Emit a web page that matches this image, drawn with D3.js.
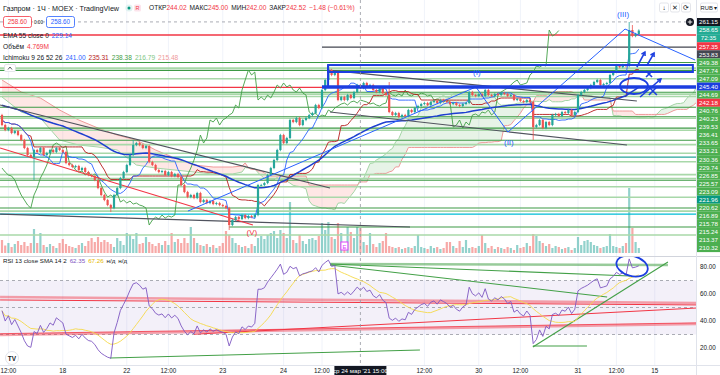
<!DOCTYPE html>
<html><head><meta charset="utf-8">
<script src="https://cdn.jsdelivr.net/npm/d3@7/dist/d3.min.js"></script>
<style>html,body{margin:0;padding:0;background:#fff;overflow:hidden}svg{display:block}text{font-family:"Liberation Sans",Arial,sans-serif}</style>
</head><body><svg id="chart" width="720" height="375"></svg>
<script>
// ---------------- DATA ----------------
const firstOpen = 234.16;
const closes = [
231.26,229.81,230.39,228.94,229.52,228.36,226.91,224.60,222.57,221.99,
224.02,223.44,224.60,222.57,223.15,224.02,223.44,224.60,224.02,223.44,
220.25,219.67,219.09,219.38,218.22,218.80,217.64,216.77,216.48,215.32,
213.00,210.97,209.52,208.07,207.20,210.97,213.00,215.90,217.64,219.67,
222.57,225.47,226.04,225.47,224.60,225.18,220.54,219.67,218.22,217.64,
217.93,216.77,217.64,216.48,217.06,216.19,213.87,211.84,210.39,210.97,
210.10,211.55,208.94,209.52,208.65,209.23,208.36,208.65,208.07,207.78,
207.20,202.28,203.73,204.59,204.01,205.17,204.30,204.88,204.59,205.17,
213.87,213.87,214.45,216.77,218.80,221.12,224.02,228.36,226.04,227.49,
232.71,232.13,233.29,231.26,232.71,233.29,234.16,234.74,237.06,236.19,
241.41,244.31,247.20,245.76,246.63,238.51,239.38,238.51,239.96,239.09,
240.83,242.86,241.99,243.44,242.28,242.86,241.41,240.83,241.99,240.54,
239.96,235.03,234.16,234.74,233.58,234.16,233.87,235.61,235.03,236.19,
236.77,237.35,237.64,237.06,237.93,238.22,237.64,238.51,238.22,237.93,
237.35,237.64,237.06,236.77,237.35,237.64,240.83,239.96,239.67,240.25,
239.67,241.41,239.96,239.67,240.25,239.96,240.54,240.25,239.67,239.96,
238.51,238.80,238.22,237.93,238.51,237.93,230.68,231.26,232.71,230.39,
232.13,231.26,234.16,234.45,233.87,235.03,234.74,235.61,234.16,235.03,
239.96,240.83,241.41,241.99,242.86,243.73,244.31,242.86,243.15,243.44,
245.76,246.63,248.36,248.07,248.65,248.36,258.80,257.06,257.64,258.65
];
const wickExtremes = [
  {i:10, low:215.32}, {i:34, low:206.04}, {i:41, high:226.91}, {i:71, low:200.83},
  {i:102, high:248.65}, {i:121, high:243.73}, {i:166, low:226.91},
  {i:196, high:261.12}, {i:197, high:260.25}
];
const volumes = [
2.6,1.5,2.0,1.2,1.8,2.4,1.6,2.2,1.4,2.0, 4.8,2.0,4.0,1.6,1.2,1.8,1.4,1.0,2.0,2.8,
1.8,1.4,1.2,1.0,1.6,2.0,1.4,2.4,3.0,2.2, 3.2,2.2,2.6,2.2,1.8,1.2,3.0,2.4,1.6,4.0,
3.6,2.8,4.0,1.8,2.0,3.2,2.2,1.8,1.4,2.0, 1.6,2.4,1.6,4.0,2.2,2.8,2.0,3.0,2.0,5.2,
3.0,2.0,1.6,1.4,1.8,1.2,1.6,1.0,1.4,2.0, 4.4,3.6,3.0,2.0,1.6,1.2,1.4,1.0,1.8,1.4,
3.0,3.4,2.8,3.6,4.0,4.4,3.0,4.6,4.0,3.0, 10.2,2.6,2.0,3.6,2.4,1.8,2.8,3.0,2.6,3.4,
6.0,4.6,6.2,3.2,2.8,6.0,4.0,2.2,5.2,4.2, 3.0,5.2,5.0,2.2,1.6,4.0,1.8,1.2,2.0,2.4,
4.0,1.4,1.2,1.0,1.2,0.8,1.0,1.2,1.0,1.4, 3.6,1.2,1.0,0.8,1.4,1.0,1.2,0.8,1.0,2.2,
2.2,1.4,1.0,2.4,1.2,2.6,1.0,1.2,1.0,1.4, 3.6,2.0,1.0,1.4,0.8,1.2,1.0,0.8,1.2,1.0,
0.6,1.6,1.0,1.2,2.0,1.4,3.8,3.4,2.4,2.0, 1.4,1.8,1.0,1.4,1.2,0.8,1.0,1.2,0.6,1.0,
3.2,1.6,2.4,2.6,2.2,1.6,1.4,1.0,1.2,1.4, 3.8,1.4,1.2,1.0,1.4,2.0,13.0,5.0,2.2,1.0
];
const emaSeed = 237.2;
// Ichimoku cloud before the visible history allows computing it
const cloudEarlyIdx = [0, 6, 12, 18, 24, 30, 36, 42, 48, 54, 60, 66, 72, 75];
const cloudEarlyA   = [239.38,235.03,233.29,226.91,225.47,224.89,224.02,219.67,218.80,218.22,217.64,217.06,217.06,217.64];
const cloudEarlyB   = [244.31,240.83,239.09,235.61,232.71,230.39,228.36,226.91,224.02,221.70,219.67,219.09,219.09,219.38];
const rsiSeed = {gain:0.30, loss:0.33};

const levels = [
  {p:257.35,k:'red'}, {p:253.83,k:'gray',from:100}, {p:249.38,k:'dg'}, {p:247.74,k:'lg'},
  {p:247.09,k:'dg'}, {p:244.69,k:'lg'}, {p:242.18,k:'red'}, {p:240.76,k:'dg'},
  {p:240.23,k:'lg'}, {p:239.53,k:'lg'}, {p:236.41,k:'dg'}, {p:233.65,k:'dg'},
  {p:233.21,k:'lg'}, {p:230.36,k:'dg'}, {p:229.74,k:'lg'}, {p:226.85,k:'dg'},
  {p:225.57,k:'lg'}, {p:223.09,k:'lg'}, {p:221.96,k:'teal'}, {p:220.62,k:'lg'},
  {p:216.89,k:'lg'}, {p:215.78,k:'lg'}, {p:215.24,k:'dg'}, {p:213.37,k:'lg'},
  {p:210.32,k:'lg'}, {p:207.20,k:'dg'}, {p:206.30,k:'lg'}, {p:205.46,k:'cyan'},
  {p:201.70,k:'dg',from:71}, {p:199.40,k:'lg'}
];
const axisLabels = ['261.15','258.65','72:35','257.35','253.83','249.38','247.74','247.09','245.40','244.69','242.18',
  '240.76','240.23','239.53','236.41','233.65','233.21','230.36','229.74','226.85','225.57','223.09','221.96',
  '220.62','216.89','215.78','215.24','213.37','210.32'];
const axisLabelKinds = ['cross','last','last','red','gray','g','g','g','blue','g','red',
  'g','g','g','g','g','g','g','g','g','g','g','teal','g','g','g','g','g','g'];
const trendLines = [
  {a:[-0.6,237.06], b:[102.5,213.0], c:'#50535e'},
  {a:[101.9,247.2], b:[198.4,238.22], c:'#50535e'},
  {a:[102.5,235.03], b:[195.3,225.47], c:'#50535e'},
  {a:[-0.6,205.46], b:[127.5,201.7], c:'#50535e'},
  {a:[-0.6,224.60], b:[78.4,202.28], c:'#f23645'}
];
const waveIdx = [58.1, 148.1, 158.1, 194.7, 216.6];
const wavePrice = [206.33, 242.28, 229.23, 259.09, 250.10];
const waveLabels = [{t:'(I)',i:148.4,p:245.76},{t:'(II)',i:158.4,p:225.47},{t:'(III)',i:194.1,p:262.57}];
const rectBox = {i0:101.9, i1:215.9, p0:248.65, p1:246.63};
const thickLine = {i0:100, i1:224.4, p:242.28};
const arrows = [{a:[198.4,248.07],b:[200.9,252.42]},{a:[201.6,248.65],b:[203.75,252.13]},{a:[199.4,239.38],b:[205.9,244.6]}];
const crosses = [{i:202.2,p:246.05,s:3},{i:203.4,p:241.12,s:4}];
const ellipses = [{i:197.5,p:242.57}];
const rsiLines = [
  {a:[-0.6,57.8],b:[216.9,53.3],c:'rgba(242,54,69,0.45)',w:2.6},
  {a:[-0.6,55.6],b:[216.9,51.9],c:'#f23645',w:1},
  {a:[60,30.2],b:[216.9,49.6],c:'#f23645',w:1},
  {a:[-0.6,29.6],b:[216.9,37.8],c:'rgba(242,54,69,0.45)',w:2.4},
  {a:[-0.6,30.6],b:[216.9,38.6],c:'#f23645',w:0.8},
  {a:[33.75,12.6],b:[130.6,18.5],c:'#43a047',w:1.1},
  {a:[102.5,82.2],b:[208.1,81.5],c:'rgba(67,160,71,0.55)',w:2.4},
  {a:[102.5,82.2],b:[196.25,73.3],c:'#43a047',w:1.1},
  {a:[102.5,81.5],b:[189.1,57.8],c:'#43a047',w:1.1},
  {a:[165.9,20.7],b:[208.1,83.7],c:'#43a047',w:1.1},
  {a:[165.9,21.5],b:[182.8,21.5],c:'#43a047',w:1.1}
];
const rsiEllipse = {i:196.9, v:80.7};
const rsiTicks = [80, 60, 40, 20];
const timeTicks = [{i:2,t:'12:00'},{i:19,t:'18'},{i:39,t:'22'},{i:52,t:'12:00'},{i:69,t:'23'},{i:88,t:'24'},
  {i:100,t:'12:00'},{i:132,t:'12:00'},{i:149,t:'30'},{i:162,t:'12:00'},{i:180,t:'31'},{i:192,t:'12:00'},{i:204,t:'15'}];
const crosshair = {i:112, p:261.15, label:"ср 24 мар '21  15:00"};
const events = [{i:107, t:'E'}];
const WICK = 0.35;

// ---------------- SCALES ----------------
const svg = d3.select('#chart');
const PLOT_R = 696, MAIN_B = 256, RSI_T = 257, RSI_B = 365;
const x = d3.scaleLinear().domain([0, 217]).range([2, 696.4]);
const y = d3.scaleLinear().domain([193.3, 267.5]).range([256, 0]);
const yVol = d3.scaleLinear().domain([0, 13]).range([253, 188]);
const yR = d3.scaleLinear().domain([0, 100]).range([375, 240]);

svg.append('rect').attr('width',720).attr('height',375).attr('fill','#fff');
const defs = svg.append('defs');
defs.append('clipPath').attr('id','cm').append('rect').attr('x',0).attr('y',0).attr('width',PLOT_R).attr('height',MAIN_B);
defs.append('clipPath').attr('id','cr').append('rect').attr('x',0).attr('y',RSI_T).attr('width',PLOT_R).attr('height',RSI_B-RSI_T);

// ---------------- COMPUTE ----------------
const N = closes.length;
const bars = closes.map((c,i)=>{const o=i===0?firstOpen:closes[i-1];return {i,o,c,h:Math.max(o,c)+WICK,l:Math.min(o,c)-WICK};});
wickExtremes.forEach(w=>{if(w.high!=null)bars[w.i].h=w.high;if(w.low!=null)bars[w.i].l=w.low;});
function mid(a,b){let hi=-Infinity,lo=Infinity;for(let k=Math.max(0,a);k<=b;k++){hi=Math.max(hi,bars[k].h);lo=Math.min(lo,bars[k].l);}return (hi+lo)/2;}
const tenkan = bars.map((d,i)=>({i,v:mid(i-8,i)}));
const kijun = bars.map((d,i)=>({i,v:mid(i-25,i)}));
const cloud = cloudEarlyIdx.map((i,k)=>({i,a:cloudEarlyA[k],b:cloudEarlyB[k]}));
for(let k=76;k<N+25;k++){const s=k-25;cloud.push({i:k,a:(tenkan[s].v+kijun[s].v)/2,b:mid(s-51,s)});}
const chikou = bars.slice(25).map((d,k)=>({i:k,v:d.c}));
let e = emaSeed; const ema = closes.map((c,i)=>{e=e+(c-e)*2/56;return {i,v:e};});
let ag=rsiSeed.gain, al=rsiSeed.loss; const rsi=[{i:0,v:100-100/(1+ag/al)}];
for(let i=1;i<N;i++){const ch=closes[i]-closes[i-1];ag=(ag*12+Math.max(ch,0))/13;al=(al*12+Math.max(-ch,0))/13;rsi.push({i,v:100-100/(1+ag/al)});}
const rsiMa = rsi.map((d,i)=>{const s=rsi.slice(Math.max(0,i-13),i+1);return {i,v:d3.mean(s,q=>q.v)};});

// ---------------- DRAW ----------------
const grid = svg.append('g');
timeTicks.forEach(t=>grid.append('line').attr('x1',x(t.i)).attr('x2',x(t.i)).attr('y1',0).attr('y2',RSI_B).attr('stroke','#f0f3fa'));

const main = svg.append('g').attr('clip-path','url(#cm)');
const ln = d3.line().x(d=>x(d.i)).y(d=>y(d.v));
// cloud
const areaG = d3.area().x(d=>x(d.i)).y0(d=>y(d.b)).y1(d=>y(Math.max(d.a,d.b)));
const areaR = d3.area().x(d=>x(d.i)).y0(d=>y(d.a)).y1(d=>y(Math.max(d.a,d.b)));
main.append('path').attr('d',areaG(cloud)).attr('fill','rgba(67,160,71,0.13)');
main.append('path').attr('d',areaR(cloud)).attr('fill','rgba(244,67,54,0.13)');
main.append('path').attr('d',d3.line().x(d=>x(d.i)).y(d=>y(d.a))(cloud)).attr('fill','none').attr('stroke','#a5d6a7').attr('stroke-width',1);
main.append('path').attr('d',d3.line().x(d=>x(d.i)).y(d=>y(d.b))(cloud)).attr('fill','none').attr('stroke','#ef9a9a').attr('stroke-width',1);

// volume
main.selectAll('rect.vol').data(bars).enter().append('rect').attr('class','vol')
  .attr('x',d=>x(d.i)-1.1).attr('width',2.2).attr('y',d=>yVol(volumes[d.i])).attr('height',d=>yVol(0)-yVol(volumes[d.i]))
  .attr('fill',d=>d.c>=d.o?'rgba(38,166,154,0.5)':'rgba(239,83,80,0.5)');

// levels
const lvStyle = {red:['#f23645',1.3],gray:['#434651',1.3],dg:['#3d9a45',1.1],lg:['#a8d8a9',1.6],teal:['#26a69a',1.3],cyan:['#00bcd4',1.3]};
levels.forEach(l=>{const s=lvStyle[l.k];main.append('line').attr('x1',l.from!=null?x(l.from):0).attr('x2',PLOT_R).attr('y1',y(l.p)).attr('y2',y(l.p)).attr('stroke',s[0]).attr('stroke-width',s[1]);});

// ichimoku lines
main.append('path').attr('d',ln(chikou)).attr('fill','none').attr('stroke','#43a047').attr('stroke-width',0.9);
main.append('path').attr('d',ln(kijun)).attr('fill','none').attr('stroke','#b71c1c').attr('stroke-width',0.9);
main.append('path').attr('d',ln(tenkan)).attr('fill','none').attr('stroke','#2962ff').attr('stroke-width',0.9);
main.append('path').attr('d',ln(ema)).attr('fill','none').attr('stroke','#1e3fd0').attr('stroke-width',1.5);

// trend lines
trendLines.forEach(t=>main.append('line').attr('x1',x(t.a[0])).attr('y1',y(t.a[1])).attr('x2',x(t.b[0])).attr('y2',y(t.b[1])).attr('stroke',t.c).attr('stroke-width',1.2));

// candles
const cg = main.append('g');
cg.selectAll('line').data(bars).enter().append('line').attr('x1',d=>x(d.i)).attr('x2',d=>x(d.i)).attr('y1',d=>y(d.h)).attr('y2',d=>y(d.l))
  .attr('stroke',d=>d.c>=d.o?'#26a69a':'#ef5350').attr('stroke-width',0.8);
cg.selectAll('rect').data(bars).enter().append('rect').attr('x',d=>x(d.i)-1.1).attr('width',2.2)
  .attr('y',d=>y(Math.max(d.o,d.c))).attr('height',d=>Math.max(0.8,Math.abs(y(d.o)-y(d.c))))
  .attr('fill',d=>d.c>=d.o?'#26a69a':'#ef5350');

// drawings (blue)
const BLUE = '#1c3ee0';
main.append('path').attr('d',d3.line().x((d,k)=>x(waveIdx[k])).y((d,k)=>y(wavePrice[k]))(waveIdx)).attr('fill','none').attr('stroke','#2962ff').attr('stroke-width',1);
main.append('rect').attr('x',x(rectBox.i0)).attr('y',y(rectBox.p0)).attr('width',x(rectBox.i1)-x(rectBox.i0)).attr('height',y(rectBox.p1)-y(rectBox.p0))
  .attr('fill','none').attr('stroke',BLUE).attr('stroke-width',2);
main.append('line').attr('x1',x(rectBox.i0)).attr('x2',x(rectBox.i0)).attr('y1',y(rectBox.p0)).attr('y2',y(thickLine.p)).attr('stroke',BLUE).attr('stroke-width',2);
waveLabels.forEach(w=>main.append('text').attr('x',x(w.i)).attr('y',y(w.p)).attr('text-anchor','middle').attr('font-size',8).attr('fill','#2962ff').text(w.t));
main.append('text').attr('x',x(78.1)).attr('y',y(199.38)).attr('text-anchor','middle').attr('font-size',8).attr('fill','#f23645').text('(V)');
svg.append('line').attr('x1',x(thickLine.i0)).attr('x2',720).attr('y1',y(thickLine.p)).attr('y2',y(thickLine.p)).attr('stroke',BLUE).attr('stroke-width',3.6);
arrows.forEach(a=>{const x1=x(a.a[0]),y1=y(a.a[1]),x2=x(a.b[0]),y2=y(a.b[1]);const ang=Math.atan2(y2-y1,x2-x1);
  main.append('line').attr('x1',x1).attr('y1',y1).attr('x2',x2).attr('y2',y2).attr('stroke',BLUE).attr('stroke-width',1.6);
  const hl=4;main.append('path').attr('d',`M${x2+hl*Math.cos(ang+2.6)},${y2+hl*Math.sin(ang+2.6)}L${x2},${y2}L${x2+hl*Math.cos(ang-2.6)},${y2+hl*Math.sin(ang-2.6)}`).attr('fill','none').attr('stroke',BLUE).attr('stroke-width',1.6);});
crosses.forEach(c=>{const cx=x(c.i),cy=y(c.p),s=c.s;main.append('path').attr('d',`M${cx-s},${cy-s}L${cx+s},${cy+s}M${cx-s},${cy+s}L${cx+s},${cy-s}`).attr('stroke',BLUE).attr('stroke-width',1.6);});
ellipses.forEach(c=>main.append('ellipse').attr('cx',x(c.i)).attr('cy',y(c.p)).attr('rx',14).attr('ry',8).attr('fill','none').attr('stroke',BLUE).attr('stroke-width',1.8));
events.forEach(ev=>{main.append('rect').attr('x',x(ev.i)-3.5).attr('y',242).attr('width',7).attr('height',8).attr('fill','#fff').attr('stroke','#e040fb').attr('stroke-width',1);
  main.append('text').attr('x',x(ev.i)).attr('y',248.5).attr('text-anchor','middle').attr('font-size',6).attr('fill','#e040fb').text(ev.t);});

// ---------------- RSI PANE ----------------
const rp = svg.append('g').attr('clip-path','url(#cr)');
const lr = d3.line().x(d=>x(d.i)).y(d=>yR(d.v));
rp.append('rect').attr('x',0).attr('width',PLOT_R).attr('y',yR(70)).attr('height',yR(30)-yR(70)).attr('fill','rgba(126,87,194,0.09)');
[70,50,30].forEach(v=>rp.append('line').attr('x1',0).attr('x2',PLOT_R).attr('y1',yR(v)).attr('y2',yR(v)).attr('stroke','#9598a1').attr('stroke-dasharray','3,3').attr('stroke-width',0.8));
rsiLines.forEach(t=>rp.append('line').attr('x1',x(t.a[0])).attr('y1',yR(t.a[1])).attr('x2',x(t.b[0])).attr('y2',yR(t.b[1])).attr('stroke',t.c).attr('stroke-width',t.w));
rp.append('path').attr('d',lr(rsiMa)).attr('fill','none').attr('stroke','#f5d94a').attr('stroke-width',0.9);
rp.append('path').attr('d',lr(rsi)).attr('fill','none').attr('stroke','#7e57c2').attr('stroke-width',0.9);
rp.append('ellipse').attr('cx',x(rsiEllipse.i)).attr('cy',yR(rsiEllipse.v)).attr('rx',16).attr('ry',10).attr('fill','none').attr('stroke',BLUE).attr('stroke-width',1.8).attr('transform',`rotate(15,${x(rsiEllipse.i)},${yR(rsiEllipse.v)})`);

// separators
svg.append('line').attr('x1',0).attr('x2',720).attr('y1',256.5).attr('y2',256.5).attr('stroke','#d1d4dc');
svg.append('line').attr('x1',0).attr('x2',720).attr('y1',365.5).attr('y2',365.5).attr('stroke','#e0e3eb');
svg.append('line').attr('x1',696.5).attr('x2',696.5).attr('y1',0).attr('y2',375).attr('stroke','#e0e3eb');

// crosshair
svg.append('line').attr('x1',x(crosshair.i)).attr('x2',x(crosshair.i)).attr('y1',0).attr('y2',RSI_B).attr('stroke','#9598a1').attr('stroke-dasharray','3,3').attr('stroke-width',0.8);
svg.append('line').attr('x1',0).attr('x2',PLOT_R).attr('y1',y(crosshair.p)).attr('y2',y(crosshair.p)).attr('stroke','#9598a1').attr('stroke-dasharray','3,3').attr('stroke-width',0.8);

// price axis labels
const labColor = {cross:'#131722',last:'#22ab94',red:'#f23645',gray:'#434651',g:'#4caf50',blue:BLUE,teal:'#089981'};
const ly = d3.scalePoint().domain(d3.range(axisLabels.length)).range([22,248]);
axisLabels.forEach((t,k)=>{const cy=ly(k);
  svg.append('rect').attr('x',697).attr('y',cy-4).attr('width',23).attr('height',8.1).attr('fill',labColor[axisLabelKinds[k]]);
  svg.append('text').attr('x',708.5).attr('y',cy+2.3).attr('text-anchor','middle').attr('font-size',6.2).attr('fill','#fff').text(t);});
svg.append('circle').attr('cx',690).attr('cy',22).attr('r',4).attr('fill','#131722');
svg.append('path').attr('d','M687.7,22H692.3M690,19.7V24.3').attr('stroke','#fff').attr('stroke-width',0.9);

// RSI axis
rsiTicks.forEach(v=>svg.append('text').attr('x',708).attr('y',yR(v)+2.2).attr('text-anchor','middle').attr('font-size',6.3).attr('fill','#131722').text(v.toFixed(2)));

// time axis
timeTicks.forEach(t=>svg.append('text').attr('x',x(t.i)).attr('y',372.5).attr('text-anchor','middle').attr('font-size',6.3).attr('fill','#131722').text(t.t));
svg.append('rect').attr('x',x(crosshair.i)-26).attr('y',366).attr('width',52).attr('height',9).attr('fill','#131722');
svg.append('text').attr('x',x(crosshair.i)).attr('y',372.8).attr('text-anchor','middle').attr('font-size',6.2).attr('fill','#fff').text(crosshair.label);

// ---------------- LEGENDS ----------------
const T = (xx,yy,parts,fs)=>{const t=svg.append('text').attr('x',xx).attr('y',yy).attr('font-size',fs||6.6);parts.forEach(p=>t.append('tspan').attr('fill',p[1]).attr('dx',p[2]||0).text(p[0]));return t;};
T(3,10.5,[['Газпром · 1Ч · MOEX · TradingView','#131722']],7.2);
svg.append('circle').attr('cx',129).attr('cy',8).attr('r',3.6).attr('fill','#e0f2f1');
svg.append('circle').attr('cx',129).attr('cy',8).attr('r',1.5).attr('fill','#089981');
svg.append('rect').attr('x',134).attr('y',4.5).attr('width',7).attr('height',7).attr('rx',1.5).attr('fill','#fce4ec');
svg.append('text').attr('x',137.5).attr('y',10).attr('text-anchor','middle').attr('font-size',5.5).attr('fill','#f23645').text('R');
T(149,10,[['ОТКР','#131722'],['244.02','#f23645'],['МАКС','#131722',3],['245.00','#f23645'],['МИН','#131722',3],['242.00','#f23645'],['ЗАКР','#131722',3],['242.52','#f23645'],['−1.48 (−0.61%)','#f23645',3]],6.6);
svg.append('rect').attr('x',3.5).attr('y',16.5).attr('width',28).attr('height',11).attr('rx',2).attr('fill','#fff').attr('stroke','#f23645').attr('stroke-width',0.8);
svg.append('text').attr('x',17.5).attr('y',24.3).attr('text-anchor','middle').attr('font-size',6.3).attr('fill','#f23645').text('258.60');
svg.append('text').attr('x',38.5).attr('y',24).attr('text-anchor','middle').attr('font-size',4.6).attr('fill','#131722').text('0.00');
svg.append('rect').attr('x',46.5).attr('y',16.5).attr('width',28).attr('height',11).attr('rx',2).attr('fill','#fff').attr('stroke','#2962ff').attr('stroke-width',0.8);
svg.append('text').attr('x',60.5).attr('y',24.3).attr('text-anchor','middle').attr('font-size',6.3).attr('fill','#2962ff').text('258.60');
T(3,37.5,[['EMA 55 close 0','#131722'],['229.14','#2962ff',3]]);
T(3,49,[['Объём','#131722'],['4.769M','#f23645',3]]);
T(3,60,[['Ichimoku 9 26 52 26','#131722'],['241.00','#2962ff',3],['235.31','#b71c1c',3],['238.38','#43a047',3],['216.79','#81c784',3],['215.48','#ef9a9a',3]]);
svg.append('rect').attr('x',4.5).attr('y',64.5).attr('width',11).attr('height',7).attr('rx',1.5).attr('fill','#fff').attr('stroke','#d1d4dc').attr('stroke-width',0.6);
svg.append('path').attr('d','M8,69.5L10,67L12,69.5').attr('fill','none').attr('stroke','#131722').attr('stroke-width',0.7);
T(3,262.5,[['RSI 13 close SMA 14 2','#131722'],['62.35','#7e57c2',3],['67.26','#e6b800',3],['н/д','#131722',3],['н/д','#131722',3]],6.2);
// top right buttons
[['↓',664],['✕',675],['⟳',686]].forEach(b=>{svg.append('rect').attr('x',b[1]-4.5).attr('y',3).attr('width',9).attr('height',9).attr('rx',1.5).attr('fill','#fff').attr('stroke','#d1d4dc').attr('stroke-width',0.6);
  svg.append('text').attr('x',b[1]).attr('y',10).attr('text-anchor','middle').attr('font-size',6.5).attr('fill','#131722').text(b[0]);});
svg.append('rect').attr('x',700.5).attr('y',3).attr('width',17).attr('height',9).attr('rx',1.5).attr('fill','#fff').attr('stroke','#d1d4dc').attr('stroke-width',0.6);
svg.append('text').attr('x',709).attr('y',10).attr('text-anchor','middle').attr('font-size',5.8).attr('fill','#131722').text('RUB ▾');
// TradingView logo
svg.append('circle').attr('cx',12).attr('cy',358).attr('r',6.5).attr('fill','#fff').attr('stroke','#e0e3eb');
svg.append('text').attr('x',12).attr('y',360.5).attr('text-anchor','middle').attr('font-size',6.5).attr('font-weight','bold').attr('fill','#131722').text('TV');
</script></body></html>
